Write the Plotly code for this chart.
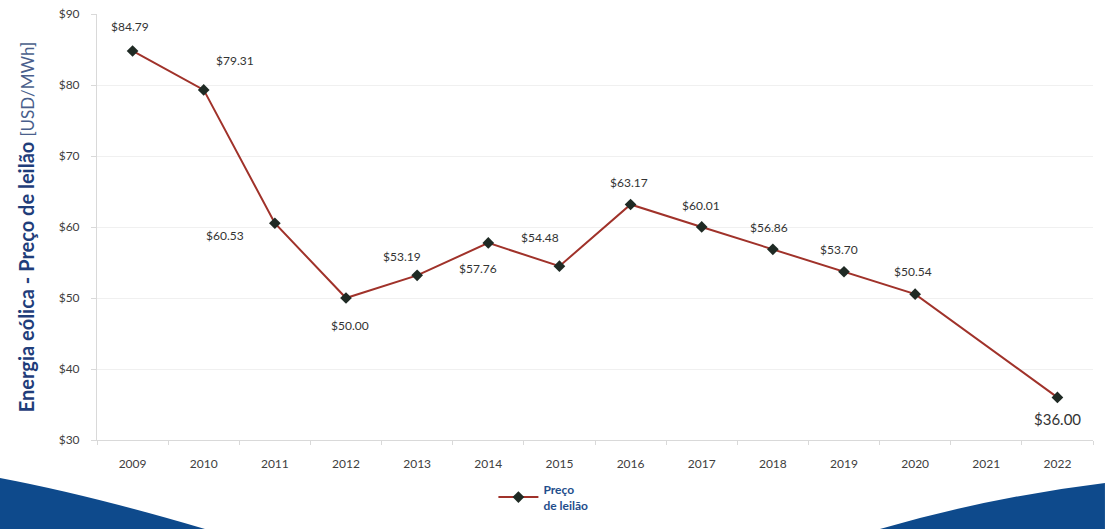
import plotly.graph_objects as go

years = ["2009", "2010", "2011", "2012", "2013", "2014", "2015", "2016",
         "2017", "2018", "2019", "2020", "2021", "2022"]
prices = [84.79, 79.31, 60.53, 50.00, 53.19, 57.76, 54.48, 63.17,
          60.01, 56.86, 53.70, 50.54, None, 36.00]
labels = ["$84.79", "$79.31", "$60.53", "$50.00", "$53.19", "$57.76", "$54.48",
          "$63.17", "$60.01", "$56.86", "$53.70", "$50.54", "", "$36.00"]
# label offsets (pixels) relative to each point
label_dx = [-3, 31, -50, 4, -15, -10, -19, -2, -1, -4, -5, -2, 0, 0]
label_dy = [24, 29, -12, -27, 19, -26, 29, 22, 21, 22, 22, 23, 0, -22]
label_size = [12, 12, 12, 12, 12, 12, 12, 12, 12, 12, 12, 12, 12, 15]
y_ticks = [30, 40, 50, 60, 70, 80, 90]
y_tick_text = ["$30", "$40", "$50", "$60", "$70", "$80", "$90"]

FONT = "Lato, 'Open Sans', sans-serif"
W, H = 1105, 529
L, R, T, B = 97, 12, 14, 89

fig = go.Figure()
fig.add_trace(go.Scatter(
    x=years, y=prices, mode="lines+markers", connectgaps=True,
    name="<b>Preço<br>de leilão</b>",
    line=dict(color="#a0322a", width=2),
    marker=dict(symbol="diamond", size=9, color="#1f2a24",
                line=dict(color="#1f2a24", width=0)),
))

for i, (yv, t, dx, dy, s) in enumerate(zip(prices, labels, label_dx, label_dy, label_size)):
    if yv is None:
        continue
    fig.add_annotation(x=i, y=yv, xref="x", yref="y", text=t, showarrow=False,
                       xshift=dx, yshift=dy,
                       font=dict(family=FONT, size=s, color="#333333"))

pw = W - L - R
ph = H - T - B
def px(X):
    return (X - L) / pw
def py(Y):
    return (H - B - Y) / ph

blue = "#0e4a8c"
left_path = (f"M {px(0):.4f},{py(478):.4f} Q {px(90):.4f},{py(495):.4f} {px(205):.4f},{py(529):.4f} "
             f"L {px(0):.4f},{py(529):.4f} Z")
right_path = (f"M {px(880):.4f},{py(529):.4f} Q {px(990):.4f},{py(497):.4f} {px(1105):.4f},{py(483):.4f} "
              f"L {px(1105):.4f},{py(529):.4f} Z")
for p in (left_path, right_path):
    fig.add_shape(type="path", path=p, xref="paper", yref="paper",
                  fillcolor=blue, line=dict(width=0), layer="below")

fig.update_layout(
    width=W, height=H,
    margin=dict(l=L, r=R, t=T, b=B, autoexpand=False),
    paper_bgcolor="white", plot_bgcolor="white",
    font=dict(family=FONT, size=11, color="#333333"),
    showlegend=True,
    legend=dict(x=0.398, y=-0.082, xanchor="left", yanchor="top",
                orientation="h", bgcolor="rgba(0,0,0,0)",
                font=dict(family=FONT, size=12, color="#1f4e8c"),
                itemwidth=40, tracegroupgap=0),
    xaxis=dict(
        type="category", categoryorder="array", categoryarray=years,
        range=[-0.5, len(years) - 0.5], autorange=False,
        showgrid=False, showline=True,
        linecolor="#d9d9d9", linewidth=1,
        ticks="outside", ticklen=4, tickcolor="#d9d9d9", tickson="boundaries",
        tickangle=0,
        tickfont=dict(family=FONT, size=12, color="#404040"),
        ticklabelstandoff=13,
    ),
    yaxis=dict(
        range=[30, 90], autorange=False, tickvals=y_ticks, ticktext=y_tick_text,
        showgrid=True, gridcolor="#f0f0f0", gridwidth=1,
        showline=True, linecolor="#d9d9d9", linewidth=1,
        ticks="outside", ticklen=5, tickcolor="#d9d9d9",
        tickfont=dict(family=FONT, size=12, color="#404040"),
        ticklabelstandoff=9,
        zeroline=False,
        title=dict(
            text="<b>Energia eólica - Preço de leilão</b> <span style='font-size:17px;color:#4a5f8c'>[USD/MWh]</span>",
            font=dict(family=FONT, size=20, color="#1f3d7a"),
            standoff=18,
        ),
    ),
)

fig.write_html("out.html")
